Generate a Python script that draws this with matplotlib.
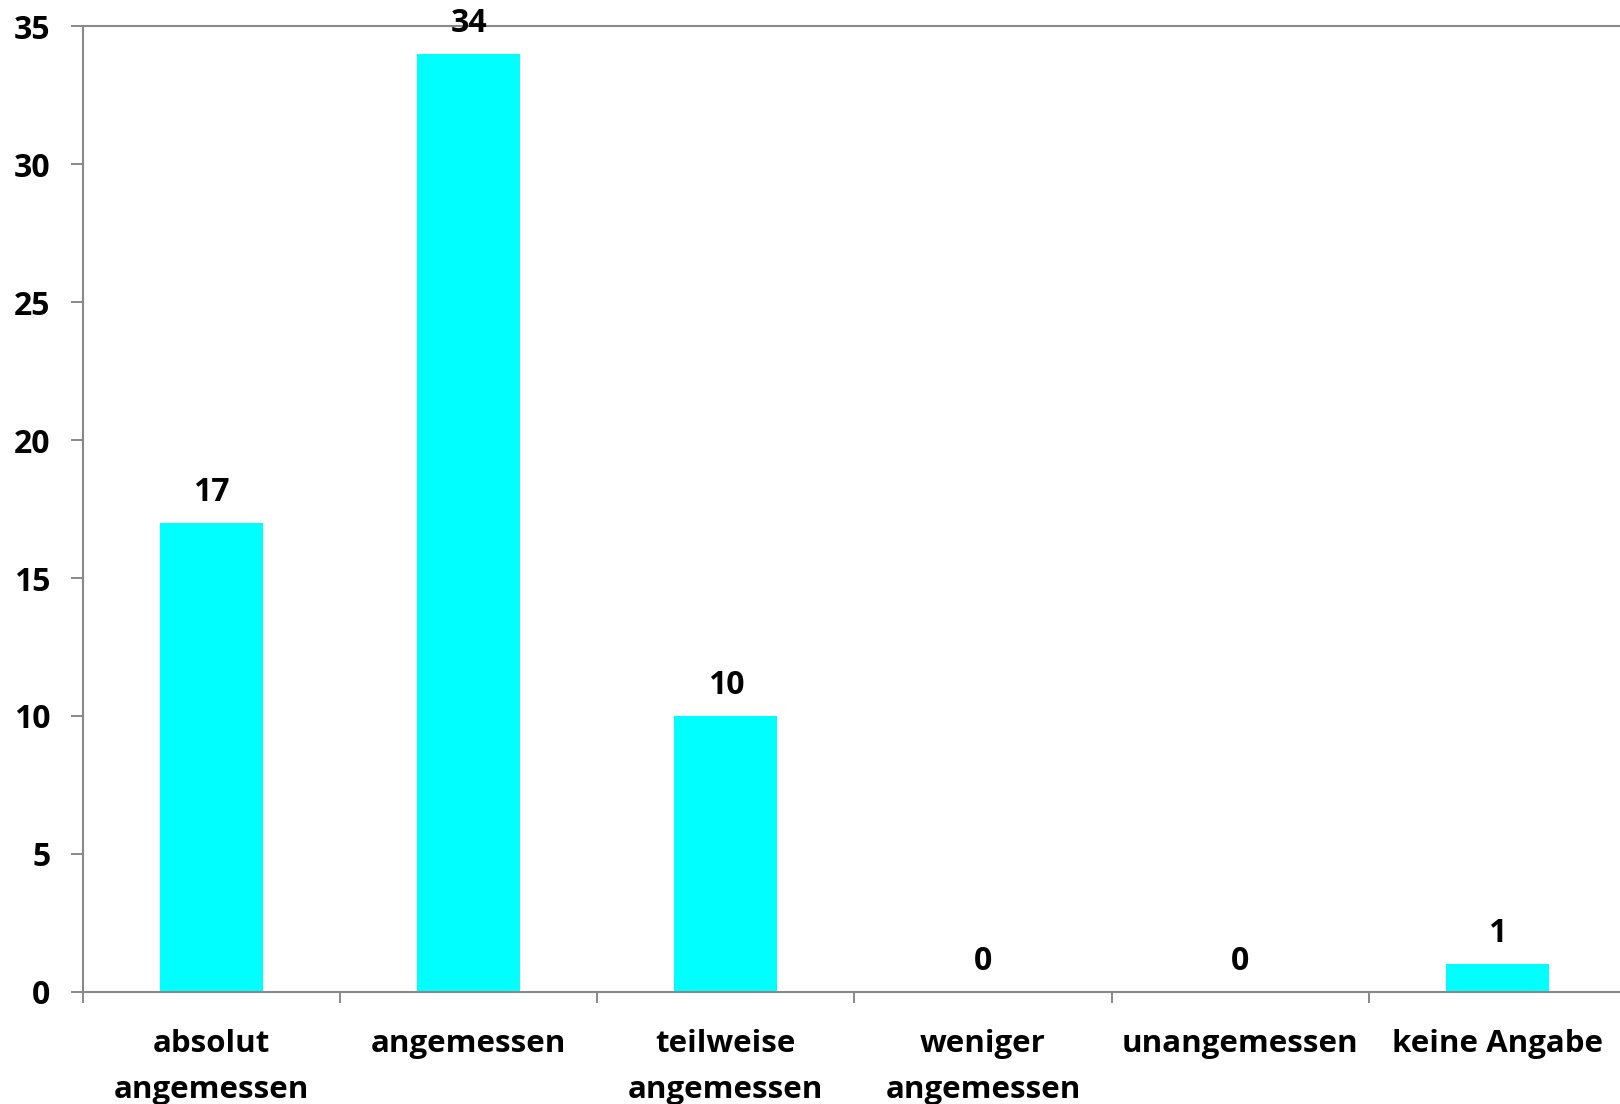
import matplotlib
matplotlib.use("Agg")
import matplotlib.pyplot as plt

# answer categories and counts
categories = ["absolut\nangemessen", "angemessen", "teilweise\nangemessen",
              "weniger\nangemessen", "unangemessen", "keine Angabe"]
counts = [17, 34, 10, 0, 0, 1]
yticks = [0, 5, 10, 15, 20, 25, 30, 35]

plt.rcParams['font.family'] = ['Open Sans', 'DejaVu Sans']
plt.rcParams['font.weight'] = 'bold'

fig = plt.figure(figsize=(16.2, 11.04), dpi=100)
ax = fig.add_axes([0.0512, 0.1017, 0.9525, 0.8743])

x = list(range(len(categories)))
bars = ax.bar(x, counts, width=0.4, color="#00FFFF", zorder=2)

# value labels above bars
for xi, v in zip(x, counts):
    ax.annotate(str(v), (xi, v), xytext=(0, 22), textcoords="offset points",
                ha="center", va="center", fontsize=23, fontweight="bold")

ax.set_xlim(-0.5, len(categories) - 0.5)
ax.set_ylim(0, 35)
ax.set_yticks(yticks)
ax.set_yticklabels([str(t) for t in yticks], fontsize=23, fontweight="bold")

# category ticks sit between bars
ax.set_xticks([i - 0.5 for i in range(len(categories))])
ax.set_xticklabels([])
ax.set_xticks(x, minor=True)
ax.set_xticklabels(categories, minor=True, fontsize=22.5, fontweight="bold",
                   linespacing=1.7)
ax.tick_params(axis="x", which="minor", length=0, pad=27)
ax.tick_params(axis="x", which="major", length=8, width=1.4, color="#898989")
ax.tick_params(axis="y", length=8.5, width=1.4, color="#898989", pad=15)

for s in ["left", "bottom", "top"]:
    ax.spines[s].set_color("#898989")
    ax.spines[s].set_linewidth(1.5)
ax.spines["right"].set_visible(False)

fig.savefig("out.png", dpi=100)
